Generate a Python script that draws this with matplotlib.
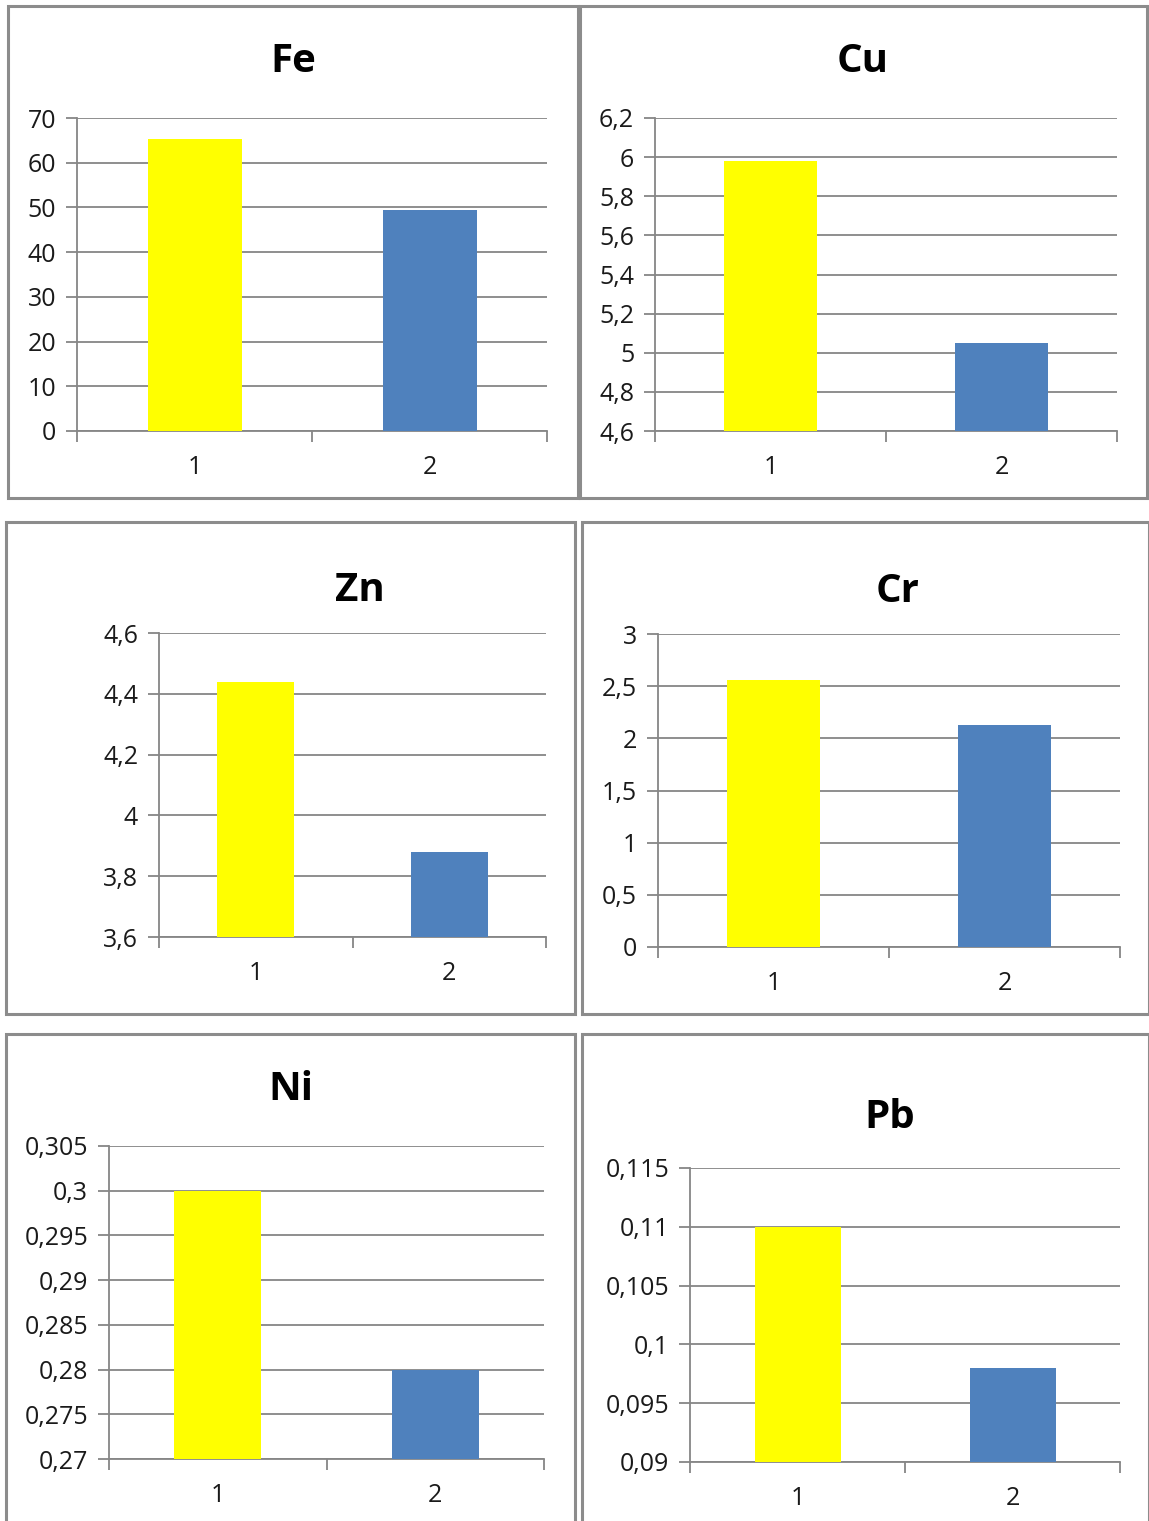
import matplotlib
matplotlib.use("Agg")
import matplotlib.pyplot as plt
from matplotlib.patches import Rectangle
from matplotlib.ticker import FuncFormatter

W, H = 1149, 1521

elements = ["Fe", "Cu", "Zn", "Cr", "Ni", "Pb"]
categories = ["1", "2"]
values = {
    "Fe": [65.3, 49.5],
    "Cu": [5.98, 5.05],
    "Zn": [4.44, 3.88],
    "Cr": [2.56, 2.13],
    "Ni": [0.300, 0.280],
    "Pb": [0.110, 0.098],
}
yranges = {
    "Fe": (0, 70, 10),
    "Cu": (4.6, 6.2, 0.2),
    "Zn": (3.6, 4.6, 0.2),
    "Cr": (0, 3, 0.5),
    "Ni": (0.27, 0.305, 0.005),
    "Pb": (0.09, 0.115, 0.005),
}
bar_colors = ["#ffff00", "#4f81bd"]

# pixel boxes: frame (x0, y0, x1, y1), plot area (x0, y0, x1, y1), title y
frames = {
    "Fe": ((8, 6, 578, 498), (77, 118, 547, 431), 58),
    "Cu": ((580, 6, 1147, 498), (655, 118, 1117, 431), 58),
    "Zn": ((6, 522, 575, 1014), (159, 633, 546, 937), 586),
    "Cr": ((582, 522, 1149, 1014), (658, 634, 1120, 947), 588),
    "Ni": ((6, 1034, 575, 1530), (109, 1146, 544, 1459), 1085),
    "Pb": ((582, 1034, 1149, 1530), (690, 1168, 1120, 1462), 1114),
}
title_x = {"Fe": 293, "Cu": 863, "Zn": 360, "Cr": 898, "Ni": 291, "Pb": 890}

plt.rcParams['font.family'] = ['Open Sans', 'DejaVu Sans']

fig = plt.figure(figsize=(W / 100, H / 100), dpi=100)
grid_c = "#868686"


def comma(v, pos):
    s = ("%.3f" % v).rstrip("0").rstrip(".")
    return s.replace(".", ",")


for el in elements:
    (fx0, fy0, fx1, fy1), (px0, py0, px1, py1), ty = frames[el]
    fig.add_artist(Rectangle((fx0 / W, 1 - fy1 / H), (fx1 - fx0) / W, (fy1 - fy0) / H,
                             transform=fig.transFigure, fill=False,
                             edgecolor="#8c8c8c", linewidth=2.2))
    ax = fig.add_axes([px0 / W, 1 - py1 / H, (px1 - px0) / W, (py1 - py0) / H])
    lo, hi, step = yranges[el]
    n = int(round((hi - lo) / step))
    ticks = [lo + i * step for i in range(n + 1)]
    ax.bar([0.5, 1.5], [v - lo for v in values[el]], bottom=lo, width=0.4,
           color=bar_colors, zorder=3)
    ax.set_xlim(0, 2)
    ax.set_ylim(lo, hi)
    ax.set_yticks(ticks)
    ax.yaxis.set_major_formatter(FuncFormatter(comma))
    ax.set_xticks([0, 1, 2])
    ax.set_xticklabels([])
    ax.set_xticks([0.5, 1.5], minor=True)
    ax.set_xticklabels(categories, minor=True)
    ax.tick_params(axis="x", which="minor", length=0, pad=17, labelsize=18,
                   labelcolor="#1a1a1a")
    ax.tick_params(axis="x", which="major", length=8, width=1.3, color=grid_c)
    ax.tick_params(axis="y", length=8, width=1.3, color=grid_c, labelsize=18,
                   labelcolor="#1a1a1a", pad=7)
    for t in ticks:
        ax.axhline(t, color=grid_c, linewidth=1.3, zorder=1)
    for s in ["top", "right"]:
        ax.spines[s].set_visible(False)
    for s in ["left", "bottom"]:
        ax.spines[s].set_color(grid_c)
        ax.spines[s].set_linewidth(1.3)
    fig.text(title_x[el] / W, 1 - (ty + 4) / H, el, ha="center", va="center",
             fontsize=29, fontweight="bold", color="black")

fig.savefig("out.png", dpi=100, facecolor="white")
